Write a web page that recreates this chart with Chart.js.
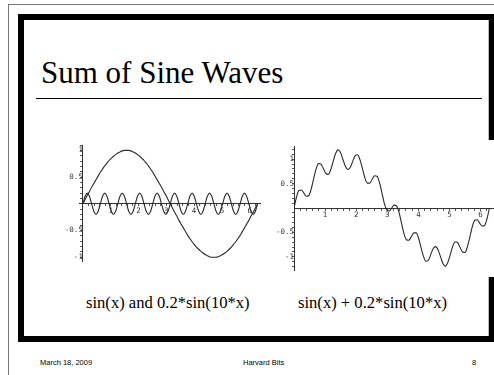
<!DOCTYPE html>
<html>
<head>
<meta charset="utf-8">
<script src="https://cdn.jsdelivr.net/npm/chart.js@4.4.1/dist/chart.umd.min.js"></script>
<style>
  body { margin:0; width:494px; height:375px; overflow:hidden; position:relative; background:#fff; }
  .abs { position:absolute; }
  #outer { left:8px; top:4px; width:500px; height:400px; border-top:1px solid #777; border-left:1px solid #777; }
  #frame { left:18px; top:14px; width:477px; height:328px; box-sizing:border-box; border:6px solid #000; }
  #frameline { left:488px; top:20px; width:1px; height:316px; background:#bbb; }
  #title { left:41px; top:57px; font:31px "Liberation Serif", "Times New Roman", serif; line-height:1; color:#000; white-space:nowrap; }
  #rule { left:36px; top:98px; width:446px; height:1px; background:#000; }
  .cap { top:295px; font:16.6px "Liberation Serif", serif; line-height:1; color:#000; white-space:nowrap; }
  .foot { top:359px; font:7.5px "Liberation Sans", Arial, sans-serif; line-height:1; color:#000; white-space:nowrap; }
  canvas { position:absolute; background:#fff; }
</style>
</head>
<body>
<div id="outer" class="abs"></div>
<div id="frame" class="abs"></div>
<div id="frameline" class="abs"></div>
<div id="title" class="abs">Sum of Sine Waves</div>
<div id="rule" class="abs"></div>
<canvas id="left" width="225" height="136" style="left:45px;top:138px"></canvas>
<canvas id="right" width="224" height="137" style="left:270px;top:140px"></canvas>
<div class="abs cap" style="left:86px">sin(x) and 0.2*sin(10*x)</div>
<div class="abs cap" style="left:298px">sin(x) + 0.2*sin(10*x)</div>
<div class="abs foot" style="left:40px">March 18, 2009</div>
<div class="abs foot" style="left:243px">Harvard Bits</div>
<div class="abs foot" style="left:472px">8</div>
<script>
// x positions (radians)
const xs = [0, 0.079, 0.157, 0.236, 0.314, 0.393, 0.471, 0.55, 0.628, 0.707,
  0.785, 0.864, 0.942, 1.021, 1.1, 1.178, 1.257, 1.335, 1.414, 1.492,
  1.571, 1.649, 1.728, 1.806, 1.885, 1.963, 2.042, 2.121, 2.199, 2.278,
  2.356, 2.435, 2.513, 2.592, 2.67, 2.749, 2.827, 2.906, 2.985, 3.063,
  3.142, 3.22, 3.299, 3.377, 3.456, 3.534, 3.613, 3.691, 3.77, 3.848,
  3.927, 4.006, 4.084, 4.163, 4.241, 4.32, 4.398, 4.477, 4.555, 4.634,
  4.712, 4.791, 4.869, 4.948, 5.027, 5.105, 5.184, 5.262, 5.341, 5.419,
  5.498, 5.576, 5.655, 5.733, 5.812, 5.89, 5.969, 6.048, 6.126, 6.205, 6.283];

// sin(x)
const slowWave = [0, 0.08, 0.16, 0.23, 0.31, 0.38, 0.45, 0.52, 0.59, 0.65,
  0.71, 0.76, 0.81, 0.85, 0.89, 0.92, 0.95, 0.97, 0.99, 1.0,
  1.0, 1.0, 0.99, 0.97, 0.95, 0.92, 0.89, 0.85, 0.81, 0.76,
  0.71, 0.65, 0.59, 0.52, 0.45, 0.38, 0.31, 0.23, 0.16, 0.08,
  0, -0.08, -0.16, -0.23, -0.31, -0.38, -0.45, -0.52, -0.59, -0.65,
  -0.71, -0.76, -0.81, -0.85, -0.89, -0.92, -0.95, -0.97, -0.99, -1.0,
  -1.0, -1.0, -0.99, -0.97, -0.95, -0.92, -0.89, -0.85, -0.81, -0.76,
  -0.71, -0.65, -0.59, -0.52, -0.45, -0.38, -0.31, -0.23, -0.16, -0.08, 0];

// 0.2*sin(10x)
const fastWave = [0, 0.14, 0.2, 0.14, 0, -0.14, -0.2, -0.14, 0, 0.14,
  0.2, 0.14, 0, -0.14, -0.2, -0.14, 0, 0.14, 0.2, 0.14,
  0, -0.14, -0.2, -0.14, 0, 0.14, 0.2, 0.14, 0, -0.14,
  -0.2, -0.14, 0, 0.14, 0.2, 0.14, 0, -0.14, -0.2, -0.14,
  0, 0.14, 0.2, 0.14, 0, -0.14, -0.2, -0.14, 0, 0.14,
  0.2, 0.14, 0, -0.14, -0.2, -0.14, 0, 0.14, 0.2, 0.14,
  0, -0.14, -0.2, -0.14, 0, 0.14, 0.2, 0.14, 0, -0.14,
  -0.2, -0.14, 0, 0.14, 0.2, 0.14, 0, -0.14, -0.2, -0.14, 0];

// sin(x) + 0.2*sin(10x)
const sumWave = [0, 0.22, 0.36, 0.37, 0.31, 0.24, 0.25, 0.38, 0.59, 0.79,
  0.91, 0.9, 0.81, 0.71, 0.69, 0.78, 0.95, 1.11, 1.19, 1.14,
  1.0, 0.86, 0.79, 0.83, 0.95, 1.07, 1.09, 0.99, 0.81, 0.62,
  0.51, 0.51, 0.59, 0.66, 0.65, 0.52, 0.31, 0.09, -0.04, -0.06,
  0, 0.06, 0.04, -0.09, -0.31, -0.52, -0.65, -0.66, -0.59, -0.51,
  -0.51, -0.62, -0.81, -0.99, -1.09, -1.07, -0.95, -0.83, -0.79, -0.86,
  -1.0, -1.14, -1.19, -1.11, -0.95, -0.78, -0.69, -0.71, -0.81, -0.9,
  -0.91, -0.79, -0.59, -0.38, -0.25, -0.24, -0.31, -0.37, -0.36, -0.22, 0];

const xTicks = [1, 2, 3, 4, 5, 6];
const yTicks = [-1, -0.5, 0.5, 1];

const pts = (ys) => xs.map((x, i) => ({x: x, y: ys[i]}));

const lineSet = (ys) => ({
  data: pts(ys),
  showLine: true,
  borderColor: '#2a2a2a',
  borderWidth: 1.1,
  pointRadius: 0,
  cubicInterpolationMode: 'monotone',
});

const tickFont = {family: 'DejaVu Sans Mono', size: 7.5};

const near = (v, list) => list.some(t => Math.abs(t - v) < 1e-6);

const axes = (xmin, xmax, ymin, ymax) => ({
  x: {
    type: 'linear', position: {y: 0}, min: xmin, max: xmax,
    afterBuildTicks: (s) => {
      const t = [];
      for (let i = 1; i <= 31; i++) { const v = Math.round(i * 2) / 10; if (v <= xmax) t.push({value: v}); }
      s.ticks = t;
    },
    ticks: {
      autoSkip: false, maxRotation: 0, padding: 1, color: '#333', font: tickFont,
      callback: (v) => near(v, xTicks) ? String(Math.round(v)) : '',
    },
    grid: {drawOnChartArea: false, tickLength: 2, color: '#555'},
    border: {color: '#333', width: 1},
  },
  y: {
    type: 'linear', position: {x: 0}, min: ymin, max: ymax,
    afterBuildTicks: (s) => {
      const t = [];
      for (let i = -12; i <= 12; i++) { const v = i / 10; if (v >= ymin && v <= ymax && i !== 0) t.push({value: v}); }
      s.ticks = t;
    },
    ticks: {
      autoSkip: false, padding: 2, color: '#333', font: tickFont,
      callback: (v) => near(v, yTicks) ? (Math.abs(v) === 1 ? String(v) : v.toFixed(1)) : '',
    },
    grid: {drawOnChartArea: false, tickLength: 2, color: '#555'},
    border: {color: '#333', width: 1},
  },
});

const baseOptions = (pad, sc) => ({
  responsive: false,
  animation: false,
  layout: {padding: pad},
  scales: sc,
  plugins: {legend: {display: false}, tooltip: {enabled: false}},
});

new Chart(document.getElementById('left').getContext('2d'), {
  type: 'scatter',
  data: {datasets: [lineSet(slowWave), lineSet(fastWave)]},
  options: baseOptions({left: 34, right: 10, top: 7, bottom: 13}, axes(-0.14, 6.37, -1.07, 1.1)),
});

new Chart(document.getElementById('right').getContext('2d'), {
  type: 'scatter',
  data: {datasets: [lineSet(sumWave)]},
  options: baseOptions({left: 24, right: 0, top: 5, bottom: 5}, axes(0, 6.43, -1.28, 1.26)),
});
</script>
</body>
</html>
